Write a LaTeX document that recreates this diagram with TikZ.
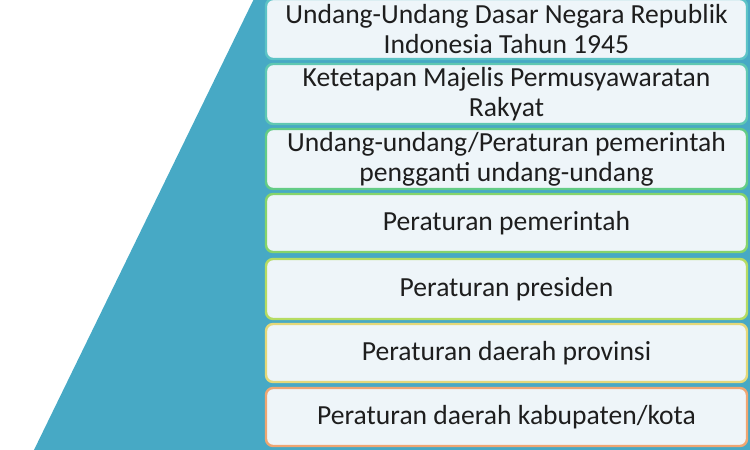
\documentclass[tikz,border=0pt]{standalone}
\usepackage{fontspec}
\setmainfont{Carlito}
\begin{document}
\begin{tikzpicture}[x=1pt,y=1pt,
  lvl/.style={draw=#1, line width=2.4pt, rounded corners=7pt, fill=boxfill,
    minimum width=481pt, align=center, inner sep=0pt, text=txt,
    font=\fontsize{27.6}{30}\selectfont}]
\definecolor{teal}{HTML}{47A9C5}
\definecolor{boxfill}{HTML}{EEF5F9}
\definecolor{txt}{HTML}{1E1E1E}
\definecolor{c1}{HTML}{5CC3C6}
\definecolor{c2}{HTML}{5FC8B2}
\definecolor{c3}{HTML}{63CC86}
\definecolor{c4}{HTML}{86D46A}
\definecolor{c5}{HTML}{B5DC62}
\definecolor{c6}{HTML}{E4D878}
\definecolor{c7}{HTML}{EFA672}
\useasboundingbox (0,0) rectangle (750,450);
\fill[teal] (33,-2) -- (268,480) -- (760,480) -- (760,-2) -- cycle;
\node[lvl=c1, minimum height=60pt] (n1) at (506.5,421) {Undang-Undang Dasar Negara Republik\\Indonesia Tahun 1945};
\node[lvl=c2, minimum height=60pt] (n2) at (506.5,356) {Ketetapan Majelis Permusyawaratan\\Rakyat};
\node[lvl=c3, minimum height=60pt] (n3) at (506.5,291) {Undang-undang/Peraturan pemerintah\\pengganti undang-undang};
\node[lvl=c4, minimum height=58pt] (n4) at (506.5,227) {Peraturan pemerintah};
\node[lvl=c5, minimum height=60pt] (n5) at (506.5,161) {Peraturan presiden};
\node[lvl=c6, minimum height=58pt] (n6) at (506.5,97) {Peraturan daerah provinsi};
\node[lvl=c7, minimum height=58pt] (n7) at (506.5,33) {Peraturan daerah kabupaten/kota};
\end{tikzpicture}
\end{document}
